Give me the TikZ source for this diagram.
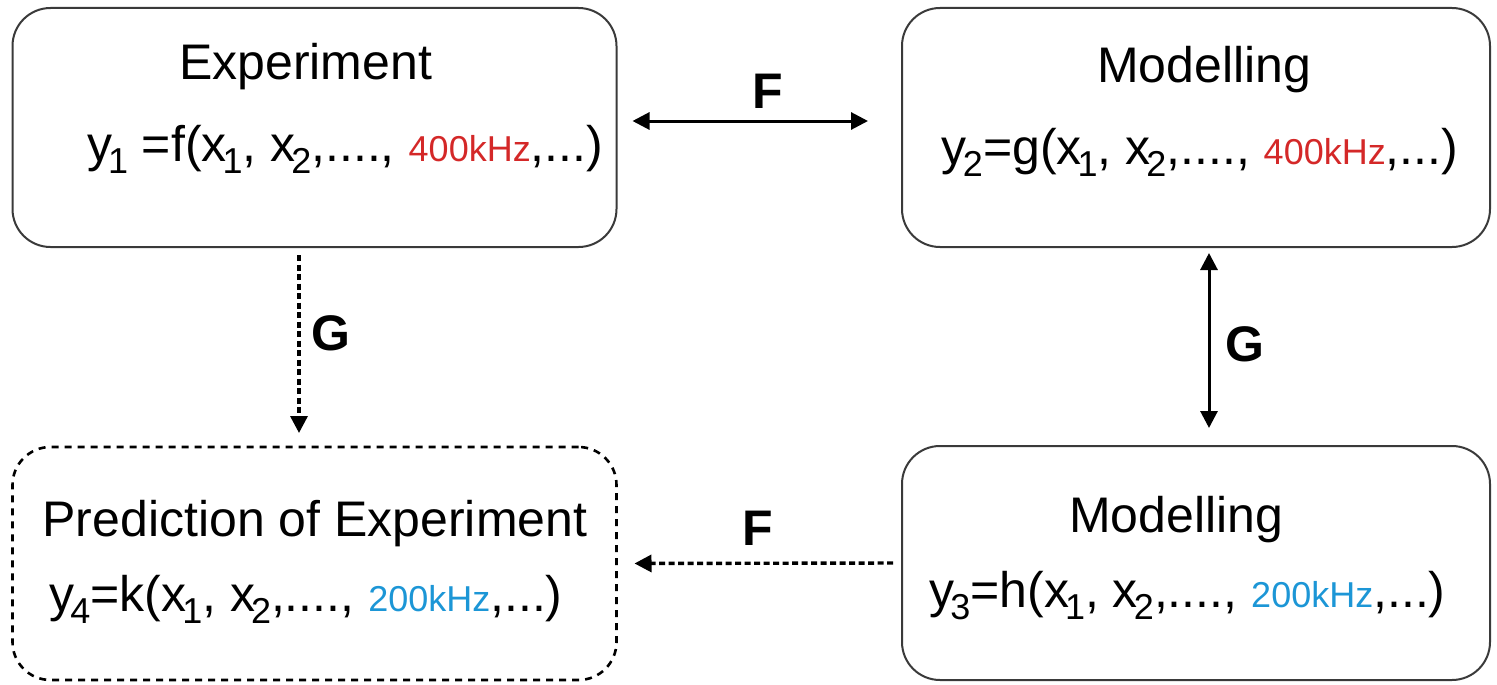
\documentclass[tikz,border=0pt]{standalone}
\usepackage{fontspec}
\setmainfont{Liberation Sans}
\usetikzlibrary{arrows.meta}
\definecolor{boxgray}{RGB}{58,58,58}
\definecolor{fred}{RGB}{212,40,40}
\definecolor{fblue}{RGB}{28,150,214}
\newcommand\sbs[1]{\kern-4pt\raisebox{-12pt}{\fontsize{36}{36}\selectfont #1}}
\newcommand\fq[1]{{\fontsize{36}{36}\selectfont #1}}
\tikzset{
  stagebox/.style={draw=boxgray, line width=2pt, rounded corners=38pt, inner sep=0pt, outer sep=0pt},
  predbox/.style={draw=black, line width=2.6pt, rounded corners=38pt, inner sep=0pt, outer sep=0pt, dash pattern=on 7pt off 6pt},
  bigtxt/.style={inner sep=0pt, anchor=base, font=\fontsize{50}{60}\selectfont},
  lbl/.style={inner sep=0pt, anchor=base, font=\fontsize{50}{60}\selectfont\bfseries},
  solidarrow/.style={line width=3pt, {Triangle[length=17pt,width=17pt]}-{Triangle[length=17pt,width=17pt]}},
  dasharrow/.style={line width=3.4pt, dash pattern=on 6pt off 3.5pt, -{Triangle[length=17pt,width=17pt]}}
}
\begin{document}
\begin{tikzpicture}[x=1pt,y=-1pt]
\useasboundingbox (0,0) rectangle (1497,685);
% boxes
\node[stagebox, minimum width=604pt, minimum height=239pt] (exp) at (314.5,127.5) {};
\node[stagebox, minimum width=588pt, minimum height=239pt] (mod1) at (1196,127.5) {};
\node[stagebox, minimum width=588pt, minimum height=234pt] (mod2) at (1196,563) {};
\node[predbox, minimum width=604pt, minimum height=233pt] (pred) at (314.5,563.5) {};
% texts
\node[bigtxt] (expT) at (305.5,80) {Experiment};
\node[bigtxt] (expF) at (345,161) {y\sbs{1} =f(x\sbs{1}, x\sbs{2},...., \textcolor{fred}{\fq{400kHz}},...)};
\node[bigtxt] (mod1T) at (1204,82) {Modelling};
\node[bigtxt] (mod1F) at (1200,164) {y\sbs{2}=g(x\sbs{1}, x\sbs{2},...., \textcolor{fred}{\fq{400kHz}},...)};
\node[bigtxt] (mod2T) at (1176,532) {Modelling};
\node[bigtxt] (mod2F) at (1187.5,607) {y\sbs{3}=h(x\sbs{1}, x\sbs{2},...., \textcolor{fblue}{\fq{200kHz}},...)};
\node[bigtxt] (predT) at (315,536) {Prediction of Experiment};
\node[bigtxt] (predF) at (306,611) {y\sbs{4}=k(x\sbs{1}, x\sbs{2},...., \textcolor{fblue}{\fq{200kHz}},...)};
% connectors
\draw[solidarrow, shorten <=16pt, shorten >=34pt] ([yshift=6.5pt]exp.east) -- ([yshift=6.5pt]mod1.west);
\draw[solidarrow, shorten <=6pt, shorten >=18pt] ([xshift=13pt]mod1.south) -- ([xshift=13pt]mod2.north);
\draw[dasharrow, shorten <=8pt, shorten >=14pt] ([xshift=-15.5pt]exp.south) -- ([xshift=-15.5pt]pred.north);
\draw[dasharrow, shorten <=9pt, shorten >=18pt] (mod2.west) -- (pred.east);
% labels
\node[lbl] (lF1) at (768,108) {F};
\node[lbl] (lF2) at (758,545) {F};
\node[lbl] (lG1) at (1245,361) {G};
\node[lbl] (lG2) at (331,350) {G};
\end{tikzpicture}
\end{document}
